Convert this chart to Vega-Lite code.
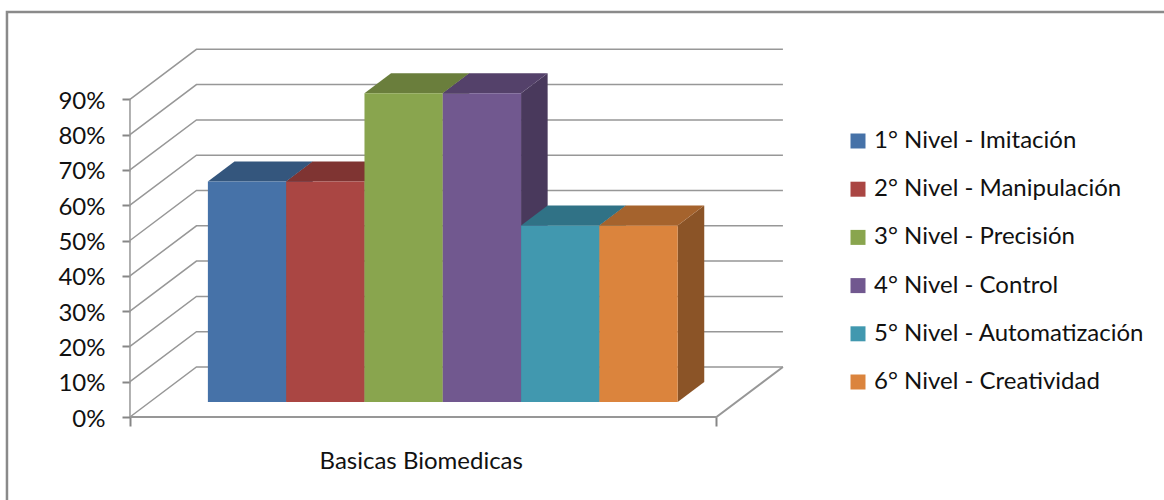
{
  "$schema": "https://vega.github.io/schema/vega-lite/v6.json",
  "width": 1164,
  "height": 500,
  "autosize": "none",
  "padding": 0,
  "background": "#ffffff",
  "config": {"view": {"stroke": null}, "font": "Lato"},
  "datasets": {
    "niveles": [
      {"nivel": "1° Nivel - Imitación", "orden": 0, "valor": 62.5},
      {"nivel": "2° Nivel - Manipulación", "orden": 1, "valor": 62.5},
      {"nivel": "3° Nivel - Precisión", "orden": 2, "valor": 87.5},
      {"nivel": "4° Nivel - Control", "orden": 3, "valor": 87.5},
      {"nivel": "5° Nivel - Automatización", "orden": 4, "valor": 50},
      {"nivel": "6° Nivel - Creatividad", "orden": 5, "valor": 50}
    ],
    "marcas": [
      {"pct": 0}, {"pct": 10}, {"pct": 20}, {"pct": 30}, {"pct": 40},
      {"pct": 50}, {"pct": 60}, {"pct": 70}, {"pct": 80}, {"pct": 90}
    ],
    "tramos": [{"tramo": 0}, {"tramo": 1}, {"tramo": 2}],
    "categoria": [{"categoria": "Basicas Biomedicas"}]
  },
  "encoding": {
    "x": {
      "field": "x",
      "type": "quantitative",
      "scale": {"domain": [-1.66, 13.206], "nice": false, "zero": false},
      "axis": {
        "orient": "bottom",
        "offset": -83,
        "values": [0, 7.49],
        "labels": false,
        "domain": false,
        "grid": false,
        "title": null,
        "tickSize": 9,
        "tickWidth": 2,
        "tickColor": "#868686"
      }
    },
    "y": {
      "field": "y",
      "type": "quantitative",
      "scale": {"domain": [-23.51, 118.13], "nice": false, "zero": false},
      "axis": {
        "orient": "left",
        "offset": -130,
        "values": [0, 10, 20, 30, 40, 50, 60, 70, 80, 90],
        "labelExpr": "datum.value + '%'",
        "domain": false,
        "grid": false,
        "title": null,
        "tickSize": 8,
        "tickWidth": 2,
        "tickColor": "#868686",
        "labelPadding": 17,
        "labelOffset": 2,
        "labelFont": "Lato",
        "labelFontSize": 24,
        "labelColor": "#111111"
      }
    }
  },
  "layer": [
    {
      "description": "Chart frame, open on the right and at the bottom",
      "data": {"name": "tramos"},
      "transform": [
        {"calculate": "datum.tramo == 2 ? 13.206 : -1.571", "as": "x"},
        {"calculate": "datum.tramo == 0 ? -23.51 : 114.7", "as": "y"}
      ],
      "mark": {"type": "line", "stroke": "#8a8a8a", "strokeWidth": 2.5},
      "encoding": {"order": {"field": "tramo"}}
    },
    {
      "description": "Gridlines running along the side wall and the back wall",
      "data": {"name": "marcas"},
      "transform": [
        {"calculate": "[0, 1, 2]", "as": "tramo"},
        {"flatten": ["tramo"]},
        {"calculate": "[0, 0.849, 8.339][datum.tramo]", "as": "x"},
        {"calculate": "datum.pct + [0, 14.16, 14.16][datum.tramo]", "as": "y"}
      ],
      "mark": {"type": "line", "stroke": "#979797", "strokeWidth": 1.5},
      "encoding": {"detail": {"field": "pct"}, "order": {"field": "tramo"}}
    },
    {
      "description": "Floor edges: front edge and right-hand diagonal",
      "data": {"name": "tramos"},
      "transform": [
        {"calculate": "[0, 7.49, 8.339][datum.tramo]", "as": "x"},
        {"calculate": "[0, 0, 14.16][datum.tramo]", "as": "y"}
      ],
      "mark": {"type": "line", "stroke": "#979797", "strokeWidth": 2},
      "encoding": {"order": {"field": "tramo"}}
    },
    {
      "description": "Vertical axis line",
      "data": {"name": "categoria"},
      "transform": [
        {"calculate": "0", "as": "x"},
        {"calculate": "90", "as": "y"},
        {"calculate": "0", "as": "y0"}
      ],
      "mark": {"type": "rule", "stroke": "#979797", "strokeWidth": 1.5},
      "encoding": {"y2": {"field": "y0"}}
    },
    {
      "description": "Right side faces of the bars",
      "data": {"name": "niveles"},
      "transform": [
        {"calculate": "[0.3, 0.7]", "as": "prof"},
        {"flatten": ["prof"]},
        {"calculate": "1.74 + datum.orden + 0.849 * datum.prof", "as": "x"},
        {"calculate": "datum.valor + 14.16 * datum.prof", "as": "y"},
        {"calculate": "14.16 * datum.prof", "as": "y0"}
      ],
      "mark": {"type": "area", "orient": "vertical", "interpolate": "linear"},
      "encoding": {
        "y2": {"field": "y0"},
        "color": {
          "field": "nivel",
          "type": "nominal",
          "legend": null,
          "scale": {
            "domain": ["1° Nivel - Imitación", "2° Nivel - Manipulación", "3° Nivel - Precisión", "4° Nivel - Control", "5° Nivel - Automatización", "6° Nivel - Creatividad"],
            "range": ["#2d4a6d", "#6e2e2c", "#586a33", "#49395c", "#2a6272", "#8b5427"]
          }
        }
      }
    },
    {
      "description": "Top faces of the bars",
      "data": {"name": "niveles"},
      "transform": [
        {"calculate": "[0.3, 0.7]", "as": "prof"},
        {"flatten": ["prof"]},
        {"calculate": "0.74 + datum.orden + 0.849 * datum.prof", "as": "x"},
        {"calculate": "datum.x + 1", "as": "x1"},
        {"calculate": "datum.valor + 14.16 * datum.prof", "as": "y"}
      ],
      "mark": {"type": "area", "orient": "horizontal", "interpolate": "linear"},
      "encoding": {
        "x2": {"field": "x1"},
        "color": {
          "field": "nivel",
          "type": "nominal",
          "legend": null,
          "scale": {
            "domain": ["1° Nivel - Imitación", "2° Nivel - Manipulación", "3° Nivel - Precisión", "4° Nivel - Control", "5° Nivel - Automatización", "6° Nivel - Creatividad"],
            "range": ["#34567d", "#7f3432", "#6a7e3c", "#54416a", "#307286", "#a5632d"]
          }
        }
      }
    },
    {
      "description": "Front faces of the bars, one per level",
      "data": {"name": "niveles"},
      "transform": [
        {"calculate": "0.995 + datum.orden", "as": "x"},
        {"calculate": "datum.x + 1", "as": "x1"},
        {"calculate": "datum.valor + 4.248", "as": "y"},
        {"calculate": "4.248", "as": "y0"}
      ],
      "mark": {"type": "rect"},
      "encoding": {
        "x2": {"field": "x1"},
        "y2": {"field": "y0"},
        "color": {
          "field": "nivel",
          "type": "nominal",
          "scale": {
            "domain": ["1° Nivel - Imitación", "2° Nivel - Manipulación", "3° Nivel - Precisión", "4° Nivel - Control", "5° Nivel - Automatización", "6° Nivel - Creatividad"],
            "range": ["#4672a8", "#aa4643", "#89a54e", "#71588f", "#4198af", "#db843d"]
          },
          "legend": {
            "title": null,
            "orient": "none",
            "legendX": 846,
            "legendY": 129,
            "padding": 0,
            "symbolType": "square",
            "symbolSize": 225,
            "symbolStrokeWidth": 0,
            "symbolOpacity": 1,
            "labelFont": "Lato",
            "labelFontSize": 24,
            "labelColor": "#111111",
            "labelOffset": 4,
            "labelLimit": 320,
            "rowPadding": 24.2
          }
        }
      }
    },
    {
      "description": "Category label under the floor",
      "data": {"name": "categoria"},
      "transform": [
        {"calculate": "3.72", "as": "x"},
        {"calculate": "-12.8", "as": "y"}
      ],
      "mark": {"type": "text", "font": "Lato", "fontSize": 24, "color": "#111111", "align": "center", "baseline": "middle"},
      "encoding": {"text": {"field": "categoria"}}
    }
  ],
  "resolve": {"scale": {"color": "independent"}}
}
